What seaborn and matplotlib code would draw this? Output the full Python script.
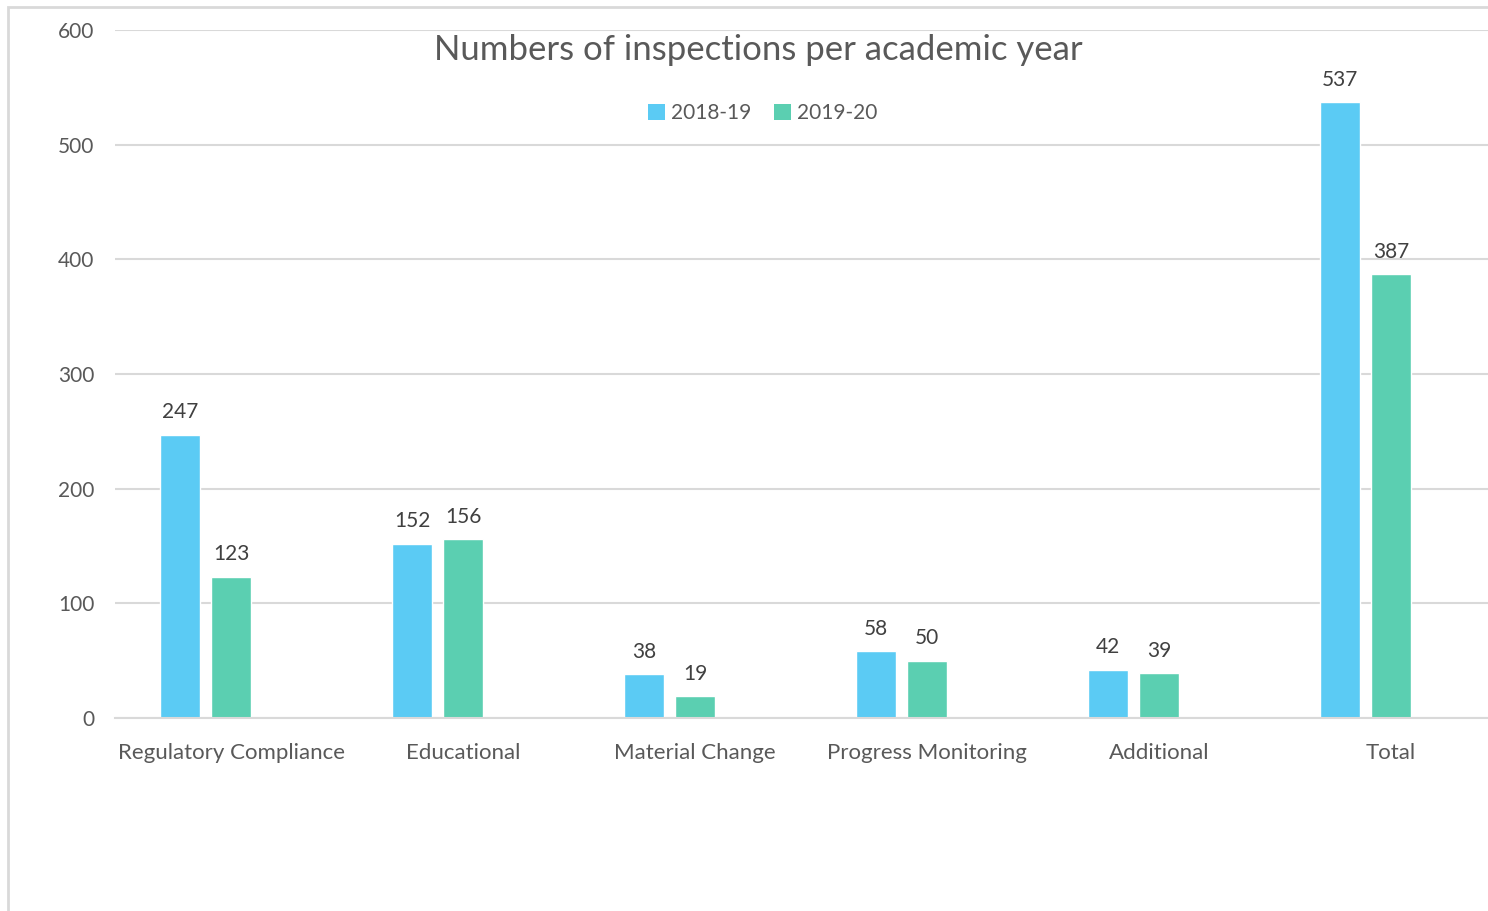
import matplotlib
matplotlib.use("Agg")
from matplotlib import pyplot as plt
from matplotlib.patches import Rectangle, Patch
import seaborn as sns
import pandas as pd

categories = ["Regulatory Compliance", "Educational", "Material Change",
              "Progress Monitoring", "Additional", "Total"]
years = ["2018-19", "2019-20"]
counts_2018_19 = [247, 152, 38, 58, 42, 537]
counts_2019_20 = [123, 156, 19, 50, 39, 387]
colors = ["#5BCBF4", "#5BCFB1"]

df = pd.DataFrame({
    "Category": categories * 2,
    "Year": [years[0]] * len(categories) + [years[1]] * len(categories),
    "Inspections": counts_2018_19 + counts_2019_20,
})

sns.set_style("white")
plt.rcParams["font.family"] = ["Lato", "DejaVu Sans"]
text_grey = "#595959"
grid_grey = "#D9D9D9"

W, H = 1488, 911
fig = plt.figure(figsize=(W / 100, H / 100), dpi=100)
# plot area in pixels: x 115 -> 1507 (runs past the right edge), y 30 -> 718
ax = fig.add_axes([115 / W, 1 - 718 / H, (1507 - 115) / W, (718 - 30) / H])

# third hue level left empty so that bars sit left of the category centre
sns.barplot(data=df, x="Category", y="Inspections", hue="Year",
            hue_order=years + ["_empty"], order=categories,
            palette=colors + ["white"], width=0.66, gap=0.22,
            errorbar=None, legend=False, ax=ax, saturation=1)

ax.set_xlim(-0.5, len(categories) - 0.5)
ax.set_ylim(0, 600)
ax.set_yticks(range(0, 601, 100))
ax.yaxis.grid(True, color=grid_grey, linewidth=1.5)
ax.set_axisbelow(True)
for side in ["top", "right", "left"]:
    ax.spines[side].set_visible(False)
ax.spines["bottom"].set_color(grid_grey)
ax.spines["bottom"].set_linewidth(1.5)
ax.tick_params(axis="both", length=0, colors=text_grey)
ax.tick_params(axis="y", pad=15, labelsize=15)
ax.tick_params(axis="x", pad=18, labelsize=16)
ax.set_xlabel("")
ax.set_ylabel("")

for container in ax.containers:
    ax.bar_label(container, fmt="%d", padding=9, fontsize=15, color="#404040")

fig.text(758 / W, 1 - 50 / H, "Numbers of inspections per academic year",
         ha="center", va="center", fontsize=25, color=text_grey)

handles = [Patch(facecolor=c, edgecolor="none") for c in colors]
fig.legend(handles, years, loc="center", bbox_to_anchor=(763 / W, 1 - 113 / H),
           ncol=2, frameon=False, fontsize=15, labelcolor=text_grey,
           handlelength=0.8, handleheight=0.8, handletextpad=0.3,
           columnspacing=1.1)

# chart frame, cropped on the right and bottom
fig.patches.append(Rectangle((8 / W, -0.1), 1.2, 1 - 7 / H + 0.1,
                             transform=fig.transFigure, fill=False,
                             edgecolor=grid_grey, linewidth=2))

fig.savefig("out.png", dpi=100)
